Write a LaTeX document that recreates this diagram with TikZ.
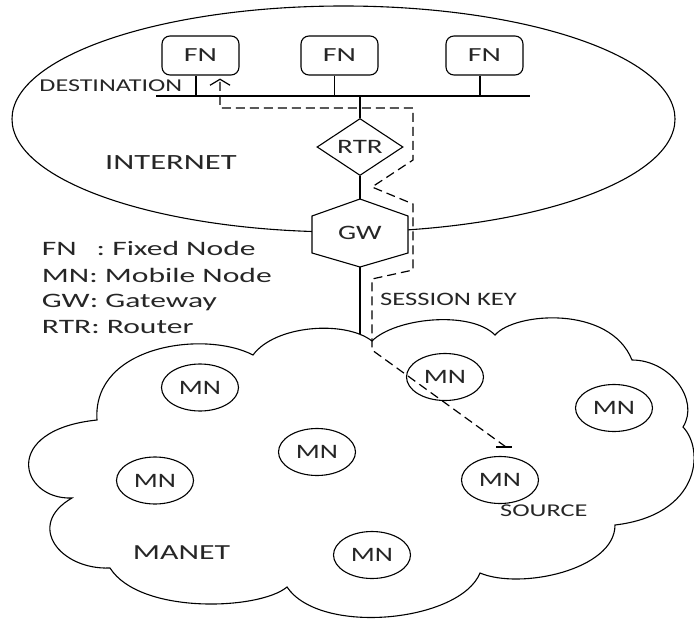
\documentclass[tikz,border=0pt]{standalone}
\usepackage{fontspec}
\setmainfont{Carlito}
\usepackage{graphicx}
\usetikzlibrary{shapes.geometric,arrows.meta}
\definecolor{txt}{HTML}{262626}
\newcommand{\fsz}[1]{\fontsize{#1bp}{#1bp}\selectfont}
\newcommand{\sx}[2]{\scalebox{#1}[1]{#2}}
\tikzset{
  shapeline/.style={line width=1.1bp, draw=black},
  fnbox/.style={shapeline, rounded corners=8bp, minimum width=77bp, minimum height=39bp, inner sep=0pt, text=txt, font=\fsz{20}},
  mnnode/.style={shapeline, ellipse, minimum width=77bp, minimum height=47bp, inner sep=0pt, text=txt, font=\fsz{20.5}},
  rtrnode/.style={shapeline, diamond, aspect=1.5, minimum width=86bp, minimum height=57bp, inner sep=0pt, text=txt, font=\fsz{20.5}},
  gwnode/.style={rectangle, minimum width=96bp, minimum height=68bp, inner sep=0pt, text=txt, font=\fsz{20.5}},
  lbl/.style={anchor=base west, inner sep=0pt, text=txt},
  wire/.style={line width=1.5bp, draw=black},
  keypath/.style={line width=1.2bp, draw=black, dash pattern=on 9bp off 5bp}
}
\begin{document}
\begin{tikzpicture}[x=1bp, y=-1bp]
\useasboundingbox (0,0) rectangle (694,619);

% Internet ellipse
\draw[shapeline] (343.5,119) ellipse [x radius=331.5, y radius=113];

% MANET cloud
\draw[shapeline] (253,355) .. controls (275,325) and (345,320) .. (372,341)
  .. controls (395,318) and (470,310) .. (495,335)
  .. controls (515,312) and (610,305) .. (632,360)
  .. controls (670,360) and (700,400) .. (683,427)
  .. controls (705,450) and (700,515) .. (615,525)
  .. controls (615,570) and (520,590) .. (480,573)
  .. controls (460,622) and (320,636) .. (287,587)
  .. controls (260,610) and (140,615) .. (110,568)
  .. controls (60,570) and (25,525) .. (72,498)
  .. controls (20,500) and (0,430) .. (97,420)
  .. controls (92,345) and (205,330) .. (253,355) -- cycle;

% Gateway hexagon
\draw[shapeline, fill=white] (360,199) -- (408,216) -- (408,253) -- (360,267) -- (312,253) -- (312,216) -- cycle;
\node[gwnode] (gw) at (360,233) {\sx{1.4}{GW}};

% Fixed nodes
\node[fnbox] (fn1) at (200.5,55.5) {\sx{1.5}{FN}\hspace{12bp}};
\node[fnbox] (fn2) at (339.5,55.5) {\sx{1.5}{FN}\hspace{12bp}};
\node[fnbox] (fn3) at (484.5,55.5) {\sx{1.5}{FN}\hspace{12bp}};

% Bus
\coordinate (busL) at (156,96);
\coordinate (busR) at (530,96);
\draw[wire] (busL) -- (busR);
\draw[wire] ([xshift=-4.5bp]fn1.south) -- ([xshift=-4.5bp]fn1.south |- busL);
\draw[wire] ([xshift=-5bp]fn2.south) -- ([xshift=-5bp]fn2.south |- busL);
\draw[wire] ([xshift=-4.5bp]fn3.south) -- ([xshift=-4.5bp]fn3.south |- busL);

% Router
\node[rtrnode] (rtr) at (360,147) {\sx{1.42}{RTR}};
\draw[wire] (rtr.north |- busL) -- (rtr.north);
\draw[wire] (rtr.south) -- (gw.north);

% Gateway to MANET
\coordinate (mtop) at (360,334);
\draw[wire] (gw.south) -- (mtop);

% Mobile nodes
\node[mnnode] (mn1) at (200,387.5) {\sx{1.37}{MN}};
\node[mnnode] (mn2) at (445,377) {\sx{1.37}{MN}};
\node[mnnode] (mn3) at (614,408) {\sx{1.37}{MN}};
\node[mnnode] (mn4) at (317,452) {\sx{1.37}{MN}};
\node[mnnode] (mn5) at (155,480.5) {\sx{1.37}{MN}};
\node[mnnode] (mn6) at (500,480) {\sx{1.37}{MN}};
\node[mnnode] (mn7) at (372,555) {\sx{1.37}{MN}};

% Session key path
\coordinate (d0) at (506,447);
\coordinate (d1) at (372,350);
\coordinate (d2) at (372,279);
\coordinate (d3) at (413,270);
\coordinate (d4) at (413,204);
\coordinate (d5) at (372,187);
\coordinate (d6) at (413,160);
\coordinate (d7) at (413,108);
\coordinate (d8) at (220,108);
\draw[line width=1.1bp] ([xshift=-10bp]d0) -- ([xshift=6bp]d0);
\draw[keypath, -{Straight Barb[length=6bp,width=20bp]}] (d0) -- (d1) -- (d2) -- (d3) -- (d4) -- (d5) -- (d6) -- (d7) -- (d8) -- ([yshift=-3bp]fn1.south -| d8);

% Labels
\node[lbl, font=\fsz{18.1}] (dest) at (39.3,91.7) {\sx{1.44}{DESTINATION}};
\node[lbl, font=\fsz{21.7}] (inet) at (105,170) {\sx{1.5}{INTERNET}};
\node[lbl, font=\fsz{19}] (skey) at (380,305) {\sx{1.4}{SESSION KEY}};
\node[lbl, font=\fsz{18}] (src) at (500,516.7) {\sx{1.46}{SOURCE}};
\node[lbl, font=\fsz{21.5}] (manet) at (132.7,559.3) {\sx{1.48}{MANET}};

% Legend
\node[lbl, font=\fsz{20.5}] (leg1) at (41.7,255.7) {\sx{1.54}{FN\hspace{0.63em}: Fixed Node}};
\node[lbl, font=\fsz{20.5}] (leg2) at (41.7,282) {\sx{1.54}{MN: Mobile Node}};
\node[lbl, font=\fsz{20.5}] (leg3) at (41.7,307.7) {\sx{1.54}{GW: Gateway}};
\node[lbl, font=\fsz{20.5}] (leg4) at (41.7,333) {\sx{1.54}{RTR: Router}};
\end{tikzpicture}
\end{document}
